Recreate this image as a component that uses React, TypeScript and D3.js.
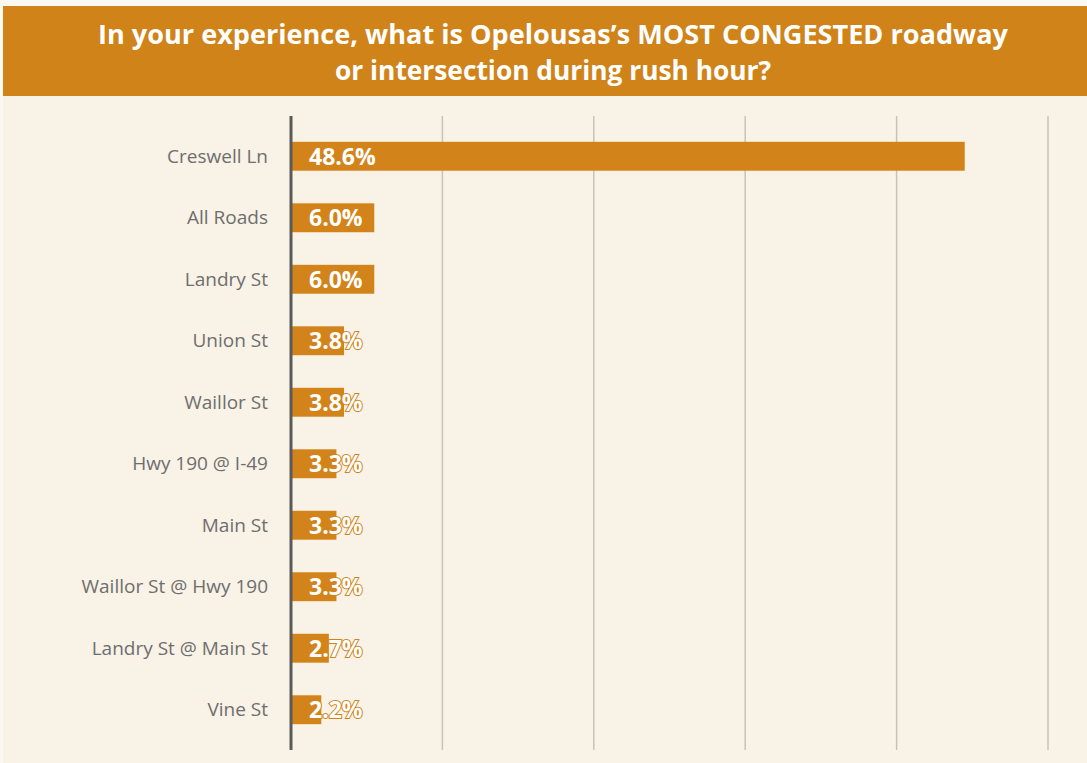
import React from "react";
import * as d3 from "d3";

const TITLE_LINES = [
  "In your experience, what is Opelousas\u2019s MOST CONGESTED roadway",
  "or intersection during rush hour?",
];
const categories = [
  "Creswell Ln",
  "All Roads",
  "Landry St",
  "Union St",
  "Waillor St",
  "Hwy 190 @ I-49",
  "Main St",
  "Waillor St @ Hwy 190",
  "Landry St @ Main St",
  "Vine St",
];
// response counts (gridlines every 20 responses)
const counts = [89, 11, 11, 7, 7, 6, 6, 6, 5, 4];
const totalResponses = 183;
const gridTicks = [20, 40, 60, 80, 100];

const W = 1087;
const H = 763;
const ORANGE = "#d2841a";
const BG = "#f9f2e7";

export default function App() {
  const x = d3.scaleLinear().domain([0, 100]).range([291, 1048]);
  const y = d3
    .scaleBand<string>()
    .domain(categories)
    .range([116, 750])
    .paddingInner(0.53)
    .paddingOuter(0.42);
  const font = "'Open Sans', 'Noto Sans', sans-serif";

  return (
    <div style={{ position: "absolute", left: 0, top: 0 }}>
      <svg width={W} height={H} style={{ display: "block" }}>
        <rect x={0} y={0} width={W} height={H} fill={BG} />
        <rect x={0} y={0} width={W} height={6} fill="#fbf8f2" />
        <rect x={0} y={0} width={3} height={H} fill="#fbf8f2" />
        <rect x={3} y={6} width={W - 3} height={90} fill="#d08319" />
        {TITLE_LINES.map((t, i) => (
          <text
            key={i}
            x={553}
            y={44 + i * 36}
            textAnchor="middle"
            fill="#ffffff"
            fontFamily={font}
            fontWeight={700}
            fontSize={26}
            textLength={i === 0 ? 910 : 436}
            lengthAdjust="spacingAndGlyphs"
          >
            {t}
          </text>
        ))}
        {gridTicks.map((t) => (
          <line
            key={t}
            x1={x(t)}
            x2={x(t)}
            y1={116}
            y2={750}
            stroke="#c9c2b9"
            strokeWidth={1.5}
          />
        ))}
        {categories.map((c, i) => {
          const yy = y(c)!;
          const bw = y.bandwidth();
          const pct = ((counts[i] / totalResponses) * 100).toFixed(1) + "%";
          return (
            <g key={c}>
              <rect
                x={x(0)}
                y={yy}
                width={x(counts[i]) - x(0)}
                height={bw}
                fill={ORANGE}
              />
              <text
                x={268}
                y={yy + bw / 2}
                dy="0.35em"
                textAnchor="end"
                fill="#6e6e6e"
                fontFamily={font}
                fontSize={19}
              >
                {c}
              </text>
              <text
                x={x(0) + 18}
                y={yy + bw / 2}
                dy="0.36em"
                fill="#ffffff"
                stroke={ORANGE}
                strokeWidth={2}
                paintOrder="stroke"
                fontFamily={font}
                fontWeight={700}
                fontSize={23}
              >
                {pct}
              </text>
            </g>
          );
        })}
        <line x1={x(0)} x2={x(0)} y1={116} y2={750} stroke="#5a5a5a" strokeWidth={3} />
      </svg>
    </div>
  );
}
